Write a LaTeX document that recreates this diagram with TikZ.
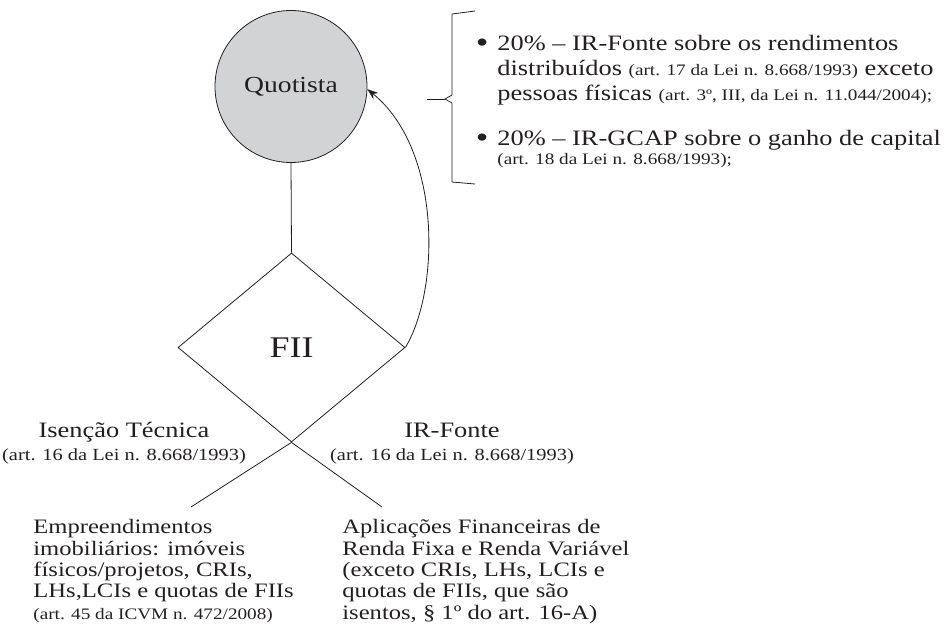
\documentclass[tikz,border=0pt]{standalone}
\usepackage{fontspec}
\setmainfont{Liberation Serif}[FakeStretch=1.2]
\usetikzlibrary{shapes.geometric,arrows.meta}
\definecolor{qgray}{HTML}{D1D3D4}
\definecolor{ink}{HTML}{231F20}
\newcommand\txtB{\fontsize{22}{25}\selectfont}
\newcommand\txtC{\fontsize{20.5}{21.3}\selectfont}
\newcommand\txtS{\fontsize{17}{20}\selectfont}
\newcommand\sm[1]{{\fontsize{16}{20}\selectfont #1}}
\newcommand\bul{\llap{\raisebox{-2pt}{\fontsize{30}{25}\selectfont\textbullet}\hskip 9pt}}
\tikzset{
  txt/.style={inner sep=0pt, align=left},
  conn/.style={line width=0.8pt}
}
\begin{document}
\begin{tikzpicture}[x=1pt,y=-1pt,color=ink,line width=0.8pt]
\useasboundingbox (0,0) rectangle (948,632);
% nodes
\node[circle, draw, fill=qgray, minimum size=152pt, inner sep=0pt, font=\fontsize{23}{28}\selectfont] (q) at (291,86.5) {Quotista};
\node[diamond, draw, minimum width=227pt, minimum height=189pt, inner sep=0pt, font=\fontsize{30}{36}\selectfont] (fii) at (291.5,347.5) {\raisebox{-4pt}{FII}};
% connectors
\draw[conn] (q.south) -- (fii.north);
\coordinate (xl) at (191,507);
\coordinate (xr) at (382,507);
\draw[conn] (fii.south) -- (xl);
\draw[conn] (fii.south) -- (xr);
\draw[conn,-{Stealth[length=11pt,width=8pt]}] (fii.east) .. controls (440,290) and (442,150) .. (q.-2);
% brace
\draw[conn] (475,11) -- (452,14) -- (452,95) -- (445,99) -- (452,103) -- (452,182) -- (475,184);
\draw[conn] (427,99) -- (445,99);
% bullet texts
\node[txt, anchor=base west, font=\txtB] (b1) at (497,100) {\bul 20\% – IR-Fonte sobre os rendimentos\\distribuídos \sm{(art. 17 da Lei n. 8.668/1993)} exceto\\pessoas físicas \sm{(art. 3º, III, da Lei n. 11.044/2004);}};
\node[txt, anchor=base west, font=\txtB] (b2) at (497,164) {\bul 20\% – IR-GCAP sobre o ganho de capital\\[-6pt]\sm{(art. 18 da Lei n. 8.668/1993);}};
% branch labels
\node[inner sep=0pt, anchor=base, font=\txtB] (ise) at (124,437) {Isenção Técnica};
\node[inner sep=0pt, anchor=base, font=\txtS] (iseref) at (124,460) {(art. 16 da Lei n. 8.668/1993)};
\node[inner sep=0pt, anchor=base, font=\txtB] (irf) at (452,437) {IR-Fonte};
\node[inner sep=0pt, anchor=base, font=\txtS] (irfref) at (452,460) {(art. 16 da Lei n. 8.668/1993)};
% bottom blocks
\node[txt, anchor=base west, font=\txtC] (emp) at (33,619) {Empreendimentos\\imobiliários: imóveis\\físicos/projetos, CRIs,\\LHs,LCIs e quotas de FIIs\\\sm{(art. 45 da ICVM n. 472/2008)}};
\node[txt, anchor=base west, font=\txtC] (apl) at (342,619) {Aplicações Financeiras de\\Renda Fixa e Renda Variável\\(exceto CRIs, LHs, LCIs e\\quotas de FIIs, que são\\isentos, § 1º do art. 16-A)};
\end{tikzpicture}
\end{document}
